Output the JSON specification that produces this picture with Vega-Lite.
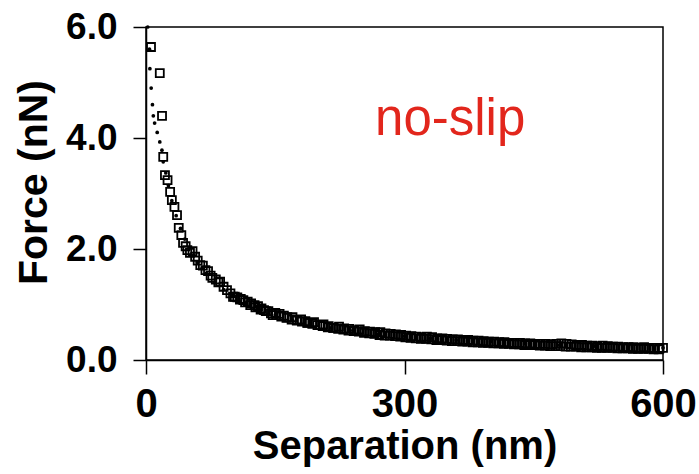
{
  "$schema": "https://vega.github.io/schema/vega-lite/v6.json",
  "width": 517,
  "height": 333,
  "autosize": {"type": "none"},
  "padding": {"left": 146, "top": 27, "right": 36, "bottom": 114},
  "background": "white",
  "config": {
    "view": {"stroke": "black", "strokeWidth": 1.5},
    "axis": {
      "grid": false,
      "domainColor": "black",
      "domainWidth": 1.5,
      "tickColor": "black",
      "tickWidth": 1.5,
      "labelColor": "black",
      "labelFont": "Liberation Sans",
      "labelFontWeight": "bold",
      "titleFont": "Liberation Sans",
      "titleFontWeight": "bold",
      "titleColor": "black",
      "labelFlush": false,
      "labelOverlap": false,
      "labelBound": false
    }
  },
  "datasets": {
    "squares": [
      {"sep":5.8,"force":5.64},{"sep":16,"force":5.17},{"sep":18.6,"force":4.4},{"sep":20,"force":3.66},{"sep":22,"force":3.33},{"sep":25,"force":3.24},{"sep":28,"force":3.03},{"sep":30,"force":2.88},{"sep":33,"force":2.76},{"sep":36,"force":2.61},{"sep":38,"force":2.38},{"sep":41,"force":2.25},{"sep":43,"force":2.11},{"sep":46,"force":2.05},{"sep":48,"force":1.98},{"sep":51,"force":1.93},{"sep":54,"force":1.96},{"sep":57,"force":1.86},{"sep":60,"force":1.79},{"sep":63,"force":1.71},{"sep":66,"force":1.70},{"sep":69,"force":1.62},{"sep":72,"force":1.60},{"sep":75,"force":1.52},{"sep":77,"force":1.48},{"sep":81,"force":1.45},{"sep":84,"force":1.40},{"sep":86,"force":1.41},{"sep":90,"force":1.32},{"sep":94,"force":1.26},{"sep":98,"force":1.20},{"sep":101,"force":1.14},{"sep":106,"force":1.13},{"sep":110,"force":1.10},{"sep":113,"force":1.08},{"sep":118,"force":1.05},{"sep":122,"force":1.02},{"sep":126,"force":0.99},{"sep":130,"force":0.97},{"sep":134,"force":0.93},{"sep":137,"force":0.90},{"sep":142,"force":0.88},{"sep":147,"force":0.81},{"sep":150,"force":0.85},{"sep":155,"force":0.83},{"sep":160,"force":0.80},{"sep":164,"force":0.77},{"sep":170,"force":0.77},{"sep":175,"force":0.72},{"sep":180,"force":0.73},{"sep":185,"force":0.70},{"sep":188,"force":0.67},{"sep":195,"force":0.68},{"sep":202,"force":0.63},{"sep":206,"force":0.64},{"sep":212,"force":0.61},{"sep":218,"force":0.58},{"sep":224,"force":0.60},{"sep":230,"force":0.57},{"sep":236,"force":0.56},{"sep":242,"force":0.54},{"sep":248,"force":0.55},{"sep":254,"force":0.52},{"sep":260,"force":0.51},{"sep":266,"force":0.50},{"sep":272,"force":0.50},{"sep":278,"force":0.48},{"sep":284,"force":0.47},{"sep":290,"force":0.46},{"sep":296,"force":0.45},{"sep":302,"force":0.44},{"sep":308,"force":0.43},{"sep":314,"force":0.42},{"sep":320,"force":0.41},{"sep":326,"force":0.42},{"sep":332,"force":0.41},{"sep":338,"force":0.39},{"sep":344,"force":0.39},{"sep":350,"force":0.38},{"sep":356,"force":0.37},{"sep":362,"force":0.37},{"sep":368,"force":0.36},{"sep":374,"force":0.36},{"sep":380,"force":0.35},{"sep":386,"force":0.35},{"sep":392,"force":0.34},{"sep":398,"force":0.33},{"sep":404,"force":0.33},{"sep":410,"force":0.32},{"sep":416,"force":0.32},{"sep":422,"force":0.31},{"sep":428,"force":0.31},{"sep":434,"force":0.31},{"sep":440,"force":0.30},{"sep":446,"force":0.30},{"sep":452,"force":0.29},{"sep":458,"force":0.29},{"sep":464,"force":0.29},{"sep":470,"force":0.28},{"sep":476,"force":0.29},{"sep":482,"force":0.30},{"sep":488,"force":0.29},{"sep":494,"force":0.28},{"sep":500,"force":0.27},{"sep":506,"force":0.27},{"sep":512,"force":0.26},{"sep":518,"force":0.26},{"sep":524,"force":0.25},{"sep":530,"force":0.26},{"sep":536,"force":0.25},{"sep":542,"force":0.24},{"sep":548,"force":0.24},{"sep":554,"force":0.23},{"sep":560,"force":0.23},{"sep":566,"force":0.23},{"sep":572,"force":0.22},{"sep":578,"force":0.23},{"sep":584,"force":0.22},{"sep":590,"force":0.22},{"sep":596,"force":0.21},{"sep":600,"force":0.22},
      {"sep":103,"force":1.14},{"sep":109,"force":1.09},{"sep":115,"force":1.04},{"sep":121,"force":0.99},{"sep":127,"force":0.95},{"sep":133,"force":0.91},{"sep":139,"force":0.88},{"sep":145,"force":0.84},{"sep":151,"force":0.81},{"sep":157,"force":0.78},{"sep":163,"force":0.76},{"sep":169,"force":0.73},{"sep":175,"force":0.71},{"sep":181,"force":0.69},{"sep":187,"force":0.67},{"sep":193,"force":0.65},{"sep":199,"force":0.63},{"sep":205,"force":0.61},{"sep":211,"force":0.59},{"sep":217,"force":0.58},{"sep":223,"force":0.56},{"sep":229,"force":0.55},{"sep":235,"force":0.53},{"sep":241,"force":0.52},{"sep":247,"force":0.51},{"sep":253,"force":0.49},{"sep":259,"force":0.48},{"sep":265,"force":0.47},{"sep":271,"force":0.45},{"sep":277,"force":0.44},{"sep":283,"force":0.44},{"sep":289,"force":0.43},{"sep":295,"force":0.42},{"sep":301,"force":0.41},{"sep":307,"force":0.40},{"sep":313,"force":0.39},{"sep":319,"force":0.38},{"sep":325,"force":0.38},{"sep":331,"force":0.37},{"sep":337,"force":0.36},{"sep":343,"force":0.36},{"sep":349,"force":0.35},{"sep":355,"force":0.34},{"sep":361,"force":0.34},{"sep":367,"force":0.33},{"sep":373,"force":0.33},{"sep":379,"force":0.32},{"sep":385,"force":0.32},{"sep":391,"force":0.31},{"sep":397,"force":0.31},{"sep":403,"force":0.30},{"sep":409,"force":0.30},{"sep":415,"force":0.29},{"sep":421,"force":0.29},{"sep":427,"force":0.28},{"sep":433,"force":0.28},{"sep":439,"force":0.27},{"sep":445,"force":0.27},{"sep":451,"force":0.27},{"sep":457,"force":0.26},{"sep":463,"force":0.26},{"sep":469,"force":0.25},{"sep":475,"force":0.25},{"sep":481,"force":0.25},{"sep":487,"force":0.24},{"sep":493,"force":0.24},{"sep":499,"force":0.24},{"sep":505,"force":0.23},{"sep":511,"force":0.23},{"sep":517,"force":0.23},{"sep":523,"force":0.22},{"sep":529,"force":0.22},{"sep":535,"force":0.22},{"sep":541,"force":0.22},{"sep":547,"force":0.21},{"sep":553,"force":0.21},{"sep":559,"force":0.21},{"sep":565,"force":0.20},{"sep":571,"force":0.20},{"sep":577,"force":0.20},{"sep":583,"force":0.20},{"sep":589,"force":0.19},{"sep":595,"force":0.19}
    ],
    "dots": [
      {"sep":2,"force":6.0},{"sep":4,"force":5.6},{"sep":4.5,"force":5.25},{"sep":6,"force":4.9},{"sep":7.5,"force":4.6},{"sep":8.5,"force":4.4},{"sep":10,"force":4.27},{"sep":13,"force":4.1},{"sep":16,"force":3.93},{"sep":18.5,"force":3.78},{"sep":20,"force":3.57},{"sep":23,"force":3.37},{"sep":26,"force":3.14},{"sep":30,"force":2.87},{"sep":35,"force":2.6},{"sep":40,"force":2.37},{"sep":45,"force":2.18},{"sep":50,"force":2.02},{"sep":55,"force":1.88},{"sep":60,"force":1.76},{"sep":65,"force":1.65},{"sep":70,"force":1.56},{"sep":80,"force":1.4},{"sep":90,"force":1.27},{"sep":100,"force":1.16},{"sep":115,"force":1.03},{"sep":130,"force":0.92},{"sep":150,"force":0.81},{"sep":170,"force":0.72},{"sep":190,"force":0.65},{"sep":215,"force":0.58},{"sep":240,"force":0.53},{"sep":270,"force":0.47},{"sep":300,"force":0.43},{"sep":330,"force":0.39},{"sep":360,"force":0.36},{"sep":400,"force":0.33},{"sep":440,"force":0.3},{"sep":480,"force":0.27},{"sep":520,"force":0.25},{"sep":560,"force":0.24},{"sep":600,"force":0.22}
    ]
  },
  "layer": [
    {
      "data": {"name": "squares"},
      "mark": {"type": "square", "filled": false, "size": 64, "stroke": "black", "strokeWidth": 1.8, "opacity": 1},
      "encoding": {
        "x": {
          "field": "sep", "type": "quantitative",
          "scale": {"domain": [0, 600], "nice": false, "zero": false},
          "axis": {"values": [0, 300, 600], "labelFontSize": 40, "tickSize": 14, "labelPadding": 10, "title": "Separation (nm)", "titleFontSize": 40, "titlePadding": 2}
        },
        "y": {
          "field": "force", "type": "quantitative",
          "scale": {"domain": [0, 6], "nice": false, "zero": false},
          "axis": {"values": [0, 2, 4, 6], "format": ".1f", "labelFontSize": 37, "tickSize": 13, "labelPadding": 16, "title": "Force (nN)", "titleFontSize": 41, "titleX": -112, "titleY": 155, "titleBaseline": "middle", "titleAngle": -90}
        }
      }
    },
    {
      "data": {"name": "dots"},
      "mark": {"type": "circle", "size": 14, "color": "black", "opacity": 1},
      "encoding": {
        "x": {"field": "sep", "type": "quantitative"},
        "y": {"field": "force", "type": "quantitative"}
      }
    },
    {
      "data": {"values": [{}]},
      "mark": {"type": "text", "font": "Liberation Sans", "fontSize": 51, "color": "#e2261c", "align": "center", "baseline": "alphabetic"},
      "encoding": {
        "x": {"datum": 353, "type": "quantitative"},
        "y": {"datum": 4.06, "type": "quantitative"},
        "text": {"value": "no-slip"}
      }
    }
  ]
}
